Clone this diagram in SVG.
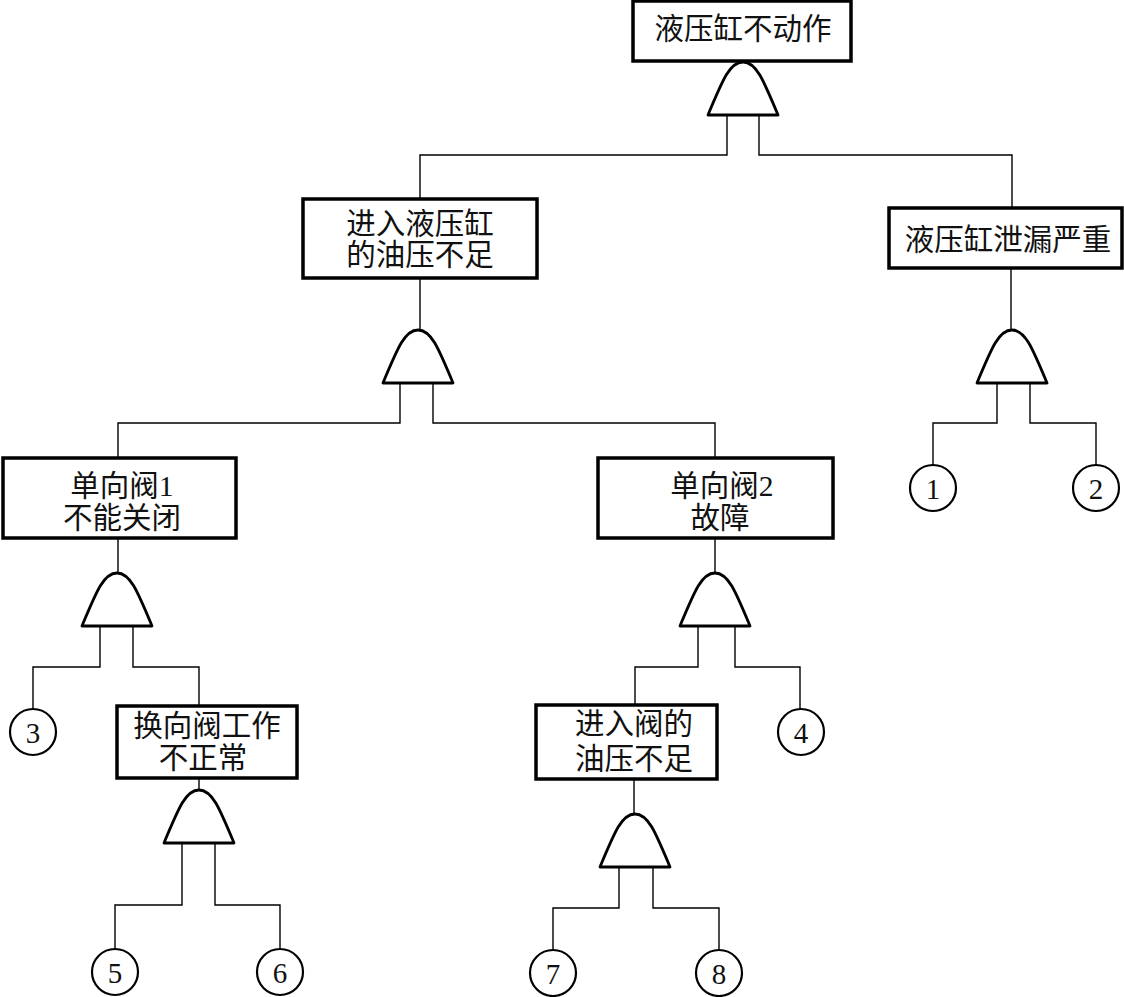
<svg xmlns="http://www.w3.org/2000/svg" width="1124" height="997" viewBox="0 0 1124 997">
<defs>
<style>
.box{fill:#fff;stroke:#000;stroke-width:3.5}
.gate{fill:#fff;stroke:#000;stroke-width:2.8;stroke-linejoin:round}
.ev{fill:#fff;stroke:#000;stroke-width:2.2}
.conn{fill:none;stroke:#000;stroke-width:1.4}
.t{font-family:"Liberation Serif","Noto Sans CJK SC",serif;font-size:29.5px;fill:#111;text-anchor:middle;dominant-baseline:central}
.n{font-family:"Liberation Serif",serif;font-size:29px;fill:#111;text-anchor:middle;dominant-baseline:central}
</style>
<path id="g" d="M-35,26 C-20,-10 -13,-27 0,-27 C13,-27 20,-10 35,26 Z"/>
</defs>
<rect width="1124" height="997" fill="#fff"/>
<g id="connectors" class="conn">
<path d="M727,115 V155 H420 V199"/>
<path d="M759,115 V155 H1012 V208"/>
<path d="M420,278 V330"/>
<path d="M1011,268 V330"/>
<path d="M400,383 V423 H118 V458"/>
<path d="M433,383 V423 H715 V458"/>
<path d="M997,383 V423 H933 V465"/>
<path d="M1030,383 V423 H1096 V465"/>
<path d="M118,538 V573"/>
<path d="M715,538 V573"/>
<path d="M100,626 V667 H33 V709"/>
<path d="M133,626 V667 H199 V706"/>
<path d="M698,626 V667 H635 V705"/>
<path d="M735,626 V667 H800 V709"/>
<path d="M199,778 V790"/>
<path d="M634,779 V813"/>
<path d="M182,843 V905 H115 V949"/>
<path d="M215,843 V905 H280 V949"/>
<path d="M619,868 V908 H553 V950"/>
<path d="M653,868 V908 H719 V950"/>
</g>
<g id="top">
<rect class="box" x="633" y="1" width="218" height="60"/>
<text class="t" x="743" y="29">液压缸不动作</text>
</g>
<g id="gate-top"><use href="#g" class="gate" transform="translate(743,89)"/></g>
<g id="e-oil">
<rect class="box" x="303" y="199" width="234" height="79"/>
<text class="t" x="420" y="224">进入液压缸</text>
<text class="t" x="420" y="255">的油压不足</text>
</g>
<g id="gate-oil"><use href="#g" class="gate" transform="translate(418,357)"/></g>
<g id="e-leak">
<rect class="box" x="889" y="208" width="233" height="60"/>
<text class="t" x="1008" y="240">液压缸泄漏严重</text>
</g>
<g id="gate-leak"><use href="#g" class="gate" transform="translate(1012,357)"/></g>
<g id="b1"><circle class="ev" cx="933" cy="488" r="23"/><text class="n" x="933" y="489">1</text></g>
<g id="b2"><circle class="ev" cx="1096" cy="488" r="23"/><text class="n" x="1096" y="489">2</text></g>
<g id="e-cv1">
<rect class="box" x="3" y="458" width="233" height="80"/>
<text class="t" x="122" y="486">单向阀1</text>
<text class="t" x="122" y="518">不能关闭</text>
</g>
<g id="gate-cv1"><use href="#g" class="gate" transform="translate(117,600)"/></g>
<g id="e-cv2">
<rect class="box" x="598" y="458" width="235" height="80"/>
<text class="t" x="722" y="486">单向阀2</text>
<text class="t" x="720" y="518">故障</text>
</g>
<g id="gate-cv2"><use href="#g" class="gate" transform="translate(715,600)"/></g>
<g id="b3"><circle class="ev" cx="33" cy="732" r="23"/><text class="n" x="33" y="733">3</text></g>
<g id="b4"><circle class="ev" cx="801" cy="732" r="23"/><text class="n" x="801" y="733">4</text></g>
<g id="e-rv">
<rect class="box" x="117" y="706" width="180" height="72"/>
<text class="t" x="207" y="726">换向阀工作</text>
<text class="t" x="203" y="758">不正常</text>
</g>
<g id="gate-rv"><use href="#g" class="gate" transform="translate(199,817)"/></g>
<g id="e-vp">
<rect class="box" x="536" y="705" width="181" height="74"/>
<text class="t" x="634" y="724">进入阀的</text>
<text class="t" x="634" y="759">油压不足</text>
</g>
<g id="gate-vp"><use href="#g" class="gate" transform="translate(635,841)"/></g>
<g id="b5"><circle class="ev" cx="115" cy="972" r="23"/><text class="n" x="115" y="973">5</text></g>
<g id="b6"><circle class="ev" cx="280" cy="972" r="23"/><text class="n" x="280" y="973">6</text></g>
<g id="b7"><circle class="ev" cx="553" cy="973" r="23"/><text class="n" x="553" y="974">7</text></g>
<g id="b8"><circle class="ev" cx="719" cy="973" r="23"/><text class="n" x="719" y="974">8</text></g>
</svg>
